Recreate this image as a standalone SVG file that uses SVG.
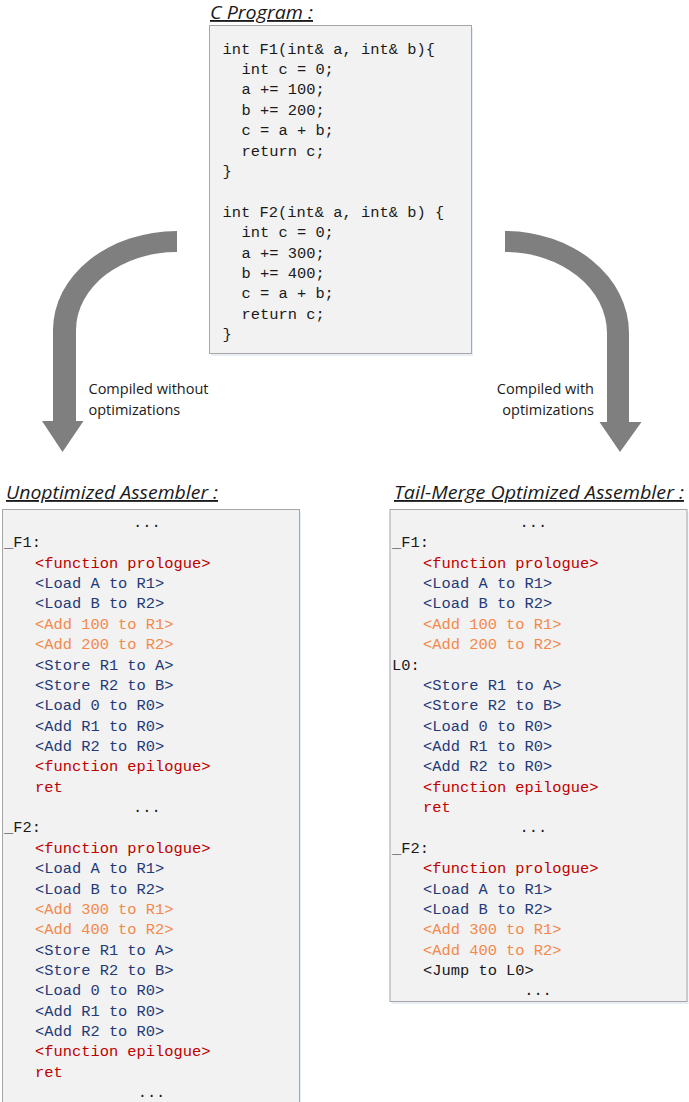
<svg xmlns="http://www.w3.org/2000/svg" width="689" height="1102" viewBox="0 0 689 1102">
<style>
.bg{fill:#ffffff}
.box{fill:#f2f2f2;stroke:#a6a6a6;stroke-width:1}
.shadow{fill:#d9e2ee;opacity:0.6}
.title{font-family:"Open Sans","Liberation Sans",sans-serif;font-style:italic;font-size:18.5px;fill:#1a1a1a;text-decoration:underline}
.code{font-family:"Liberation Mono","DejaVu Sans Mono",monospace;font-size:15.4px;fill:#1a1a1a}
.lbl{font-family:"Open Sans","Liberation Sans",sans-serif;font-size:14.5px;fill:#1a1a1a}
.k{fill:#1a1a1a}
.r{fill:#c00000}
.b{fill:#1f3b78}
.o{fill:#f4894b}
.arrow{fill:#7f7f7f}
</style>
<rect class="bg" x="0" y="0" width="689" height="1102"/>

<g id="connectors">
  <path class="arrow" d="M177,231 A124,99 0 0 0 53,330 L53,421 L42,421 L62.5,452 L83.5,421 L76,421 L76,330 A101,78 0 0 1 177,252 Z"/>
  <path class="arrow" d="M505,231 A124,102 0 0 1 629,333 L629,422 L641.5,422 L620,452 L599.5,422 L607,422 L607,333 A102,81 0 0 0 505,252 Z"/>
  <text class="lbl" x="88.5" y="394">Compiled without</text>
  <text class="lbl" x="88.5" y="415">optimizations</text>
  <text class="lbl" x="594" y="394" text-anchor="end">Compiled with</text>
  <text class="lbl" x="594" y="415" text-anchor="end">optimizations</text>
</g>

<g id="c-program">
  <text class="title" x="210" y="19" textLength="103" lengthAdjust="spacingAndGlyphs">C Program :</text>
  <rect class="shadow" x="211" y="28" width="262" height="328"/>
  <rect class="box" x="209.5" y="25.5" width="262" height="328"/>
  <text class="code">
    <tspan x="222.5" y="53.5">int F1(int&amp; a, int&amp; b){</tspan>
    <tspan x="241.5" y="73.9">int c = 0;</tspan>
    <tspan x="241.5" y="94.3">a += 100;</tspan>
    <tspan x="241.5" y="114.7">b += 200;</tspan>
    <tspan x="241.5" y="135.1">c = a + b;</tspan>
    <tspan x="241.5" y="155.5">return c;</tspan>
    <tspan x="222.5" y="175.9">}</tspan>
    <tspan x="222.5" y="216.7">int F2(int&amp; a, int&amp; b) {</tspan>
    <tspan x="241.5" y="237.1">int c = 0;</tspan>
    <tspan x="241.5" y="257.5">a += 300;</tspan>
    <tspan x="241.5" y="277.9">b += 400;</tspan>
    <tspan x="241.5" y="298.3">c = a + b;</tspan>
    <tspan x="241.5" y="318.7">return c;</tspan>
    <tspan x="222.5" y="339.1">}</tspan>
  </text>
</g>

<g id="unoptimized-assembler">
  <text class="title" x="6" y="499" textLength="212" lengthAdjust="spacingAndGlyphs">Unoptimized Assembler :</text>
  <rect class="shadow" x="4" y="512" width="297" height="600"/>
  <rect class="box" x="2.5" y="509.5" width="297" height="600"/>
  <text class="code">
    <tspan class="k" x="151.5" y="527" text-anchor="middle">...</tspan>
    <tspan class="k" x="4" y="547.4">_F1:</tspan>
    <tspan class="r" x="35" y="567.7">&lt;function prologue&gt;</tspan>
    <tspan class="b" x="35" y="588.1">&lt;Load A to R1&gt;</tspan>
    <tspan class="b" x="35" y="608.4">&lt;Load B to R2&gt;</tspan>
    <tspan class="o" x="35" y="628.8">&lt;Add 100 to R1&gt;</tspan>
    <tspan class="o" x="35" y="649.2">&lt;Add 200 to R2&gt;</tspan>
    <tspan class="b" x="35" y="669.5">&lt;Store R1 to A&gt;</tspan>
    <tspan class="b" x="35" y="689.9">&lt;Store R2 to B&gt;</tspan>
    <tspan class="b" x="35" y="710.2">&lt;Load 0 to R0&gt;</tspan>
    <tspan class="b" x="35" y="730.6">&lt;Add R1 to R0&gt;</tspan>
    <tspan class="b" x="35" y="751">&lt;Add R2 to R0&gt;</tspan>
    <tspan class="r" x="35" y="771.3">&lt;function epilogue&gt;</tspan>
    <tspan class="r" x="35" y="791.7">ret</tspan>
    <tspan class="k" x="151.5" y="812" text-anchor="middle">...</tspan>
    <tspan class="k" x="4" y="832.4">_F2:</tspan>
    <tspan class="r" x="35" y="852.8">&lt;function prologue&gt;</tspan>
    <tspan class="b" x="35" y="873.1">&lt;Load A to R1&gt;</tspan>
    <tspan class="b" x="35" y="893.5">&lt;Load B to R2&gt;</tspan>
    <tspan class="o" x="35" y="913.8">&lt;Add 300 to R1&gt;</tspan>
    <tspan class="o" x="35" y="934.2">&lt;Add 400 to R2&gt;</tspan>
    <tspan class="b" x="35" y="954.6">&lt;Store R1 to A&gt;</tspan>
    <tspan class="b" x="35" y="974.9">&lt;Store R2 to B&gt;</tspan>
    <tspan class="b" x="35" y="995.3">&lt;Load 0 to R0&gt;</tspan>
    <tspan class="b" x="35" y="1015.6">&lt;Add R1 to R0&gt;</tspan>
    <tspan class="b" x="35" y="1036">&lt;Add R2 to R0&gt;</tspan>
    <tspan class="r" x="35" y="1056.4">&lt;function epilogue&gt;</tspan>
    <tspan class="r" x="35" y="1076.7">ret</tspan>
    <tspan class="k" x="151.5" y="1097.1" text-anchor="middle">...</tspan>
  </text>
</g>

<g id="tail-merge-optimized-assembler">
  <text class="title" x="394" y="499" textLength="290" lengthAdjust="spacingAndGlyphs">Tail-Merge Optimized Assembler :</text>
  <rect class="shadow" x="391.5" y="512" width="297" height="492"/>
  <rect class="box" x="390" y="509.5" width="297" height="492"/>
  <text class="code">
    <tspan class="k" x="538" y="527" text-anchor="middle">...</tspan>
    <tspan class="k" x="392" y="547.4">_F1:</tspan>
    <tspan class="r" x="423" y="567.7">&lt;function prologue&gt;</tspan>
    <tspan class="b" x="423" y="588.1">&lt;Load A to R1&gt;</tspan>
    <tspan class="b" x="423" y="608.4">&lt;Load B to R2&gt;</tspan>
    <tspan class="o" x="423" y="628.8">&lt;Add 100 to R1&gt;</tspan>
    <tspan class="o" x="423" y="649.2">&lt;Add 200 to R2&gt;</tspan>
    <tspan class="k" x="392" y="669.5">L0:</tspan>
    <tspan class="b" x="423" y="689.9">&lt;Store R1 to A&gt;</tspan>
    <tspan class="b" x="423" y="710.2">&lt;Store R2 to B&gt;</tspan>
    <tspan class="b" x="423" y="730.6">&lt;Load 0 to R0&gt;</tspan>
    <tspan class="b" x="423" y="751">&lt;Add R1 to R0&gt;</tspan>
    <tspan class="b" x="423" y="771.3">&lt;Add R2 to R0&gt;</tspan>
    <tspan class="r" x="423" y="791.7">&lt;function epilogue&gt;</tspan>
    <tspan class="r" x="423" y="812">ret</tspan>
    <tspan class="k" x="538" y="832.4" text-anchor="middle">...</tspan>
    <tspan class="k" x="392" y="852.8">_F2:</tspan>
    <tspan class="r" x="423" y="873.1">&lt;function prologue&gt;</tspan>
    <tspan class="b" x="423" y="893.5">&lt;Load A to R1&gt;</tspan>
    <tspan class="b" x="423" y="913.8">&lt;Load B to R2&gt;</tspan>
    <tspan class="o" x="423" y="934.2">&lt;Add 300 to R1&gt;</tspan>
    <tspan class="o" x="423" y="954.6">&lt;Add 400 to R2&gt;</tspan>
    <tspan class="k" x="423" y="974.9">&lt;Jump to L0&gt;</tspan>
    <tspan class="k" x="538" y="995.3" text-anchor="middle">...</tspan>
  </text>
</g>
</svg>
